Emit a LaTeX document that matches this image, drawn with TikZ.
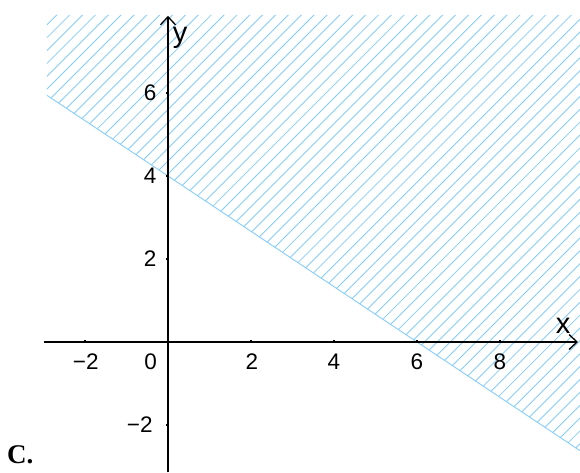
\documentclass[tikz,border=0pt]{standalone}
\usepackage{fontspec}
\setmainfont{Liberation Sans}
\newfontfamily\serifC{Liberation Serif}
\usetikzlibrary{arrows.meta}
\definecolor{hatchblue}{RGB}{135,205,250}
\begin{document}
\begin{tikzpicture}[x=41.5pt,y=41.5pt,
  axis/.style={line width=1.5pt,black,-{Straight Barb[length=8pt,width=15pt,line width=1.3pt]}},
  hatch/.style={hatchblue,line width=0.85pt},
  ticklbl/.style={font=\fontsize{22.5}{24}\selectfont,inner sep=0pt},
  axlbl/.style={font=\fontsize{29}{31}\selectfont,inner sep=0pt},
  tickmark/.style={line width=1.2pt,black}]
\useasboundingbox (-4.048,-3.133) rectangle (9.928,8.241);
% hatched region
\coordinate (TL) at (-2.92,7.88);
\coordinate (TR) at (9.93,7.88);
\coordinate (L2) at (9.93,-2.62);
\coordinate (L1) at (-2.92,5.947);
\begin{scope}
\clip (TL) -- (TR) -- (L2) -- (L1) -- cycle;
\foreach \c in {0,...,85}{
  \draw[hatch] (-3,{-13+\c*0.31-3}) -- (10,{-13+\c*0.31+10});
}
\end{scope}
\draw[hatch] (L1) -- (L2);
% axes
\coordinate (xs) at (-2.99,0);
\coordinate (xe) at (9.88,0);
\coordinate (ys) at (0,-3.14);
\coordinate (ye) at (0,7.86);
\draw[axis] (xs) -- (xe);
\draw[axis] (ys) -- (ye);
\node[axlbl] (xl) at (9.52,0.38) {x};
\node[axlbl] (yl) at (0.29,7.33) {y};
% ticks
\foreach \v in {-2,2,4,6,8}{
  \draw[tickmark] (\v,0) -- (\v,0.06);
}
\foreach \v in {-2,2,4,6}{
  \draw[tickmark] (0,\v) -- (-0.06,\v);
}
% tick labels
\node[ticklbl] (xm2) at (-1.98,-0.47) {−2};
\node[ticklbl] (x0) at (-0.42,-0.47) {0};
\node[ticklbl] (x2) at (2.02,-0.47) {2};
\node[ticklbl] (x4) at (4.0,-0.47) {4};
\node[ticklbl] (x6) at (6.0,-0.47) {6};
\node[ticklbl] (x8) at (8.0,-0.47) {8};
\node[ticklbl] (y6) at (-0.43,6.0) {6};
\node[ticklbl] (y4) at (-0.43,4.0) {4};
\node[ticklbl] (y2) at (-0.43,2.0) {2};
\node[ticklbl] (ym2) at (-0.68,-2.0) {−2};
\node[font=\serifC\bfseries\fontsize{27}{29}\selectfont,inner sep=0pt,anchor=west] (C) at (-3.88,-2.72) {C.};
\end{tikzpicture}
\end{document}
